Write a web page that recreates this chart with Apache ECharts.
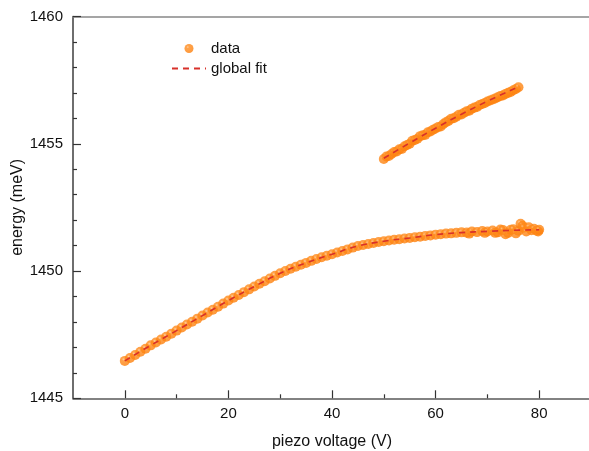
<!DOCTYPE html>
<html>
<head>
<meta charset="utf-8">
<script src="https://cdn.jsdelivr.net/npm/echarts@6/dist/echarts.min.js"></script>
<style>
html,body{margin:0;padding:0;background:#fff;}
#chart{width:589px;height:451px;}
</style>
</head>
<body>
<div id="chart"></div>
<script>
// Lower branch measured points [piezo voltage (V), energy (meV)]
var lowerX = [0,1,2,3,4,5,6,7,8,9,10,11,12,13,14,15,16,17,18,19,20,21,22,23,24,25,26,27,28,29,30,31,32,33,34,35,36,37,38,39,40,41,42,43,44,45,46,47,48,49,50,51,52,53,54,55,56,57,58,59,60,61,62,63,64,65,66,66.5,67,68,69,69.5,70,71,71.5,72,72.5,73,73.5,74,74.5,75,75.5,76,76.4,76.8,77,77.5,78,78.5,79,79.5,79.8,80];
var lowerY = [1446.47,1446.58,1446.70,1446.83,1446.95,1447.08,1447.19,1447.31,1447.42,1447.54,1447.66,1447.78,1447.90,1448.01,1448.13,1448.25,1448.37,1448.48,1448.60,1448.72,1448.84,1448.95,1449.06,1449.17,1449.28,1449.39,1449.50,1449.60,1449.71,1449.81,1449.91,1450.00,1450.09,1450.17,1450.25,1450.32,1450.40,1450.47,1450.54,1450.60,1450.66,1450.73,1450.79,1450.85,1450.92,1450.98,1451.02,1451.06,1451.10,1451.14,1451.17,1451.20,1451.23,1451.25,1451.28,1451.30,1451.33,1451.35,1451.38,1451.40,1451.43,1451.45,1451.47,1451.48,1451.50,1451.52,1451.51,1451.47,1451.55,1451.53,1451.57,1451.50,1451.55,1451.59,1451.50,1451.52,1451.63,1451.61,1451.45,1451.50,1451.62,1451.64,1451.48,1451.58,1451.86,1451.78,1451.70,1451.55,1451.72,1451.60,1451.66,1451.58,1451.55,1451.62];
// Upper branch measured points
var upperX = [50,50.5,51,51.5,52,52.5,53,53.5,54,54.5,55,55.5,56,56.5,57,57.5,58,58.5,59,59.5,60,60.5,61,61.5,62,62.5,63,63.5,64,64.5,65,65.5,66,66.5,67,67.5,68,68.5,69,69.5,70,70.5,71,71.5,72,72.5,73,73.5,74,74.5,75,75.5,76];
var upperY = [1454.40,1454.50,1454.52,1454.60,1454.68,1454.70,1454.78,1454.80,1454.90,1454.95,1455.00,1455.12,1455.15,1455.20,1455.30,1455.33,1455.35,1455.45,1455.48,1455.55,1455.60,1455.66,1455.68,1455.78,1455.85,1455.90,1455.98,1456.00,1456.06,1456.14,1456.15,1456.22,1456.28,1456.30,1456.38,1456.42,1456.45,1456.52,1456.56,1456.60,1456.66,1456.70,1456.74,1456.78,1456.83,1456.88,1456.90,1456.96,1457.00,1457.04,1457.10,1457.15,1457.22];
// Global fit curves
var fitLowerX = [0,5,10,15,20,25,30,35,40,45,50,55,60,65,70,75,80];
var fitLowerY = [1446.47,1447.08,1447.66,1448.25,1448.84,1449.39,1449.91,1450.32,1450.66,1450.98,1451.17,1451.30,1451.43,1451.51,1451.56,1451.60,1451.62];
var fitUpperX = [50,55,60,65,70,76];
var fitUpperY = [1454.43,1455.03,1455.61,1456.16,1456.67,1457.24];
// Axis ticks
var xMajorTicks = [0,20,40,60,80];
var xMinorTicks = [10,30,50,70];

function zip(xs, ys){ return xs.map(function(x,i){ return [x, ys[i]]; }); }

var FONT = '"Liberation Sans", Arial, Helvetica, sans-serif';
var dotColor = {
  type:'radial', x:0.36, y:0.34, r:0.7,
  colorStops:[{offset:0,color:'#ffc58f'},{offset:0.22,color:'#ff8c1e'},{offset:1,color:'#fd7f0a'}]
};
var fitStyle = {color:'#d8302a', width:1.6, type:[6,5]};

var chart = echarts.init(document.getElementById('chart'), null, {renderer:'canvas'});
chart.setOption({
  backgroundColor:'#ffffff',
  animation:false,
  textStyle:{fontFamily:FONT},
  grid:{left:73, top:16.5, width:518, height:381.8, containLabel:false, outerBoundsMode:'none'},
  legend:{
    data:['data', {name:'global fit', itemStyle:{opacity:0}}],
    orient:'vertical', left:166, top:36,
    itemWidth:34, itemHeight:9, itemGap:5, itemTextGap:7,
    textStyle:{fontSize:15, color:'#111', fontFamily:FONT}
  },
  xAxis:[
    {
      type:'value', min:-10, max:90, interval:10, position:'bottom',
      name:'piezo voltage (V)', nameLocation:'middle', nameGap:35,
      nameTextStyle:{fontSize:16, color:'#111', fontFamily:FONT},
      axisLine:{show:true, onZero:false, lineStyle:{color:'#5a5a5a', width:1.6}},
      axisTick:{show:true, inside:true, length:8, customValues:xMajorTicks, lineStyle:{color:'#333', width:1.2}},
      axisLabel:{customValues:xMajorTicks, margin:8, fontSize:15, color:'#111', fontFamily:FONT},
      splitLine:{show:false}
    },
    {
      type:'value', min:-10, max:90, interval:10, position:'bottom',
      axisLine:{show:false},
      axisTick:{show:true, inside:true, length:4, customValues:xMinorTicks, lineStyle:{color:'#333', width:1.2}},
      axisLabel:{show:false},
      splitLine:{show:false}
    },
    {
      type:'value', min:-10, max:90, position:'top',
      axisLine:{show:true, onZero:false, lineStyle:{color:'#888', width:1.6}},
      axisTick:{show:false}, axisLabel:{show:false}, splitLine:{show:false}
    }
  ],
  yAxis:{
    type:'value', min:1445, max:1460, interval:5,
    name:'energy (meV)', nameLocation:'middle', nameGap:47, nameRotate:90, nameMoveOverlap:false,
    nameTextStyle:{fontSize:16, color:'#111', fontFamily:FONT},
    axisLine:{show:true, onZero:false, lineStyle:{color:'#4a4a4a', width:1.6}},
    axisTick:{show:true, inside:true, length:8, lineStyle:{color:'#333', width:1.2}},
    minorTick:{show:true, splitNumber:5, length:4, lineStyle:{color:'#333', width:1.2}},
    axisLabel:{margin:10, fontSize:15, color:'#111', fontFamily:FONT, formatter:function(v){ return String(v); }},
    splitLine:{show:false}, minorSplitLine:{show:false}
  },
  series:[
    {
      name:'data', type:'scatter', xAxisIndex:0, symbol:'circle', symbolSize:10,
      itemStyle:{color:dotColor},
      data:zip(lowerX, lowerY), z:2
    },
    {
      name:'data', type:'scatter', xAxisIndex:0, symbol:'circle', symbolSize:10,
      itemStyle:{color:dotColor},
      data:zip(upperX, upperY), z:2
    },
    {
      name:'global fit', type:'line', xAxisIndex:0, smooth:true, symbol:'none',
      lineStyle:fitStyle, itemStyle:{color:'#d8302a'},
      data:zip(fitLowerX, fitLowerY), z:3
    },
    {
      name:'global fit', type:'line', xAxisIndex:0, smooth:true, symbol:'none',
      lineStyle:fitStyle, itemStyle:{color:'#d8302a'},
      data:zip(fitUpperX, fitUpperY), z:3
    }
  ]
});
</script>
</body>
</html>
